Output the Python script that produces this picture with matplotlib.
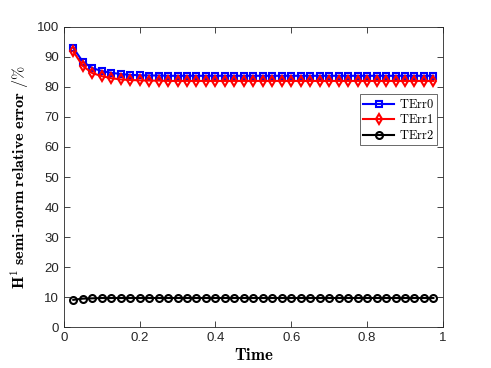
#!/usr/bin/env python3
import numpy as np
import matplotlib.pyplot as plt

plt.rcParams['mathtext.fontset'] = 'cm'
plt.rcParams['font.family'] = ['Liberation Sans', 'DejaVu Sans']

time = [0.025, 0.05, 0.075, 0.1, 0.125, 0.15, 0.175, 0.2, 0.225, 0.25,
        0.275, 0.3, 0.325, 0.35, 0.375, 0.4, 0.425, 0.45, 0.475, 0.5,
        0.525, 0.55, 0.575, 0.6, 0.625, 0.65, 0.675, 0.7, 0.725, 0.75,
        0.775, 0.8, 0.825, 0.85, 0.875, 0.9, 0.925, 0.95, 0.975]
terr0 = [93.0, 88.4, 86.3, 85.3, 84.7, 84.3, 84.0, 83.9, 83.8, 83.8,
         83.7, 83.7, 83.7, 83.7, 83.7, 83.7, 83.7, 83.7, 83.7, 83.7,
         83.7, 83.7, 83.7, 83.7, 83.7, 83.7, 83.7, 83.7, 83.7, 83.7,
         83.7, 83.7, 83.7, 83.7, 83.7, 83.7, 83.7, 83.7, 83.7]
terr1 = [91.8, 87.0, 84.6, 83.6, 82.9, 82.5, 82.3, 82.2, 82.1, 82.1,
         82.0, 82.0, 82.0, 82.0, 82.0, 82.0, 82.0, 82.0, 82.0, 82.0,
         82.0, 82.0, 82.0, 82.0, 82.0, 82.0, 82.0, 82.0, 82.0, 82.0,
         82.0, 82.0, 82.0, 82.0, 82.0, 82.0, 82.0, 82.0, 82.0]
terr2 = [9.1, 9.5, 9.6, 9.7, 9.7, 9.7, 9.7, 9.7, 9.7, 9.7,
         9.7, 9.7, 9.7, 9.7, 9.7, 9.7, 9.7, 9.7, 9.7, 9.7,
         9.7, 9.7, 9.7, 9.7, 9.7, 9.7, 9.7, 9.7, 9.7, 9.7,
         9.7, 9.7, 9.7, 9.7, 9.7, 9.7, 9.7, 9.7, 9.7]
xticks = [0, 0.2, 0.4, 0.6, 0.8, 1]
yticks = list(range(0, 101, 10))

fig = plt.figure(figsize=(4.91, 3.68), dpi=100)
ax = fig.add_axes([0.130, 0.111, 0.772, 0.816])

ax.plot(time, terr0, '-s', color='b', lw=1.5, ms=4.5, mfc='none', mew=1.5, label='TErr0')
ax.plot(time, terr1, '-d', color='r', lw=1.5, ms=5, mfc='none', mew=1.5, label='TErr1')
ax.plot(time, terr2, '-o', color='k', lw=1.5, ms=5, mfc='none', mew=1.5, label='TErr2')

ax.set_xlim(0, 1)
ax.set_ylim(0, 100)
ax.set_xticks(xticks)
ax.set_xticklabels(['0', '0.2', '0.4', '0.6', '0.8', '1'])
ax.set_yticks(yticks)
ax.tick_params(direction='in', top=True, right=True, labelsize=9.5, length=4,
               width=0.6, color='#262626', labelcolor='#262626')
for s in ax.spines.values():
    s.set_linewidth(0.6)
    s.set_color('#262626')

ax.set_xlabel(r'$\mathbf{Time}$', fontsize=12, labelpad=2)
ax.set_ylabel(r'$\mathbf{H^1\ semi}$-$\mathbf{norm\ relative\ error}\ /\%$', fontsize=11.5, labelpad=4)

leg = ax.legend(loc='upper right', bbox_to_anchor=(0.985, 0.775), fancybox=False,
                edgecolor='#262626', prop={'size': 8.5},
                handlelength=2.6, borderpad=0.3, labelspacing=0.2, handletextpad=0.4,
                borderaxespad=0)
leg.get_frame().set_linewidth(0.6)
for t in leg.get_texts():
    t.set_text(r'$\mathrm{' + t.get_text() + '}$')
    t.set_fontsize(9)

fig.savefig('out.png', dpi=100)
